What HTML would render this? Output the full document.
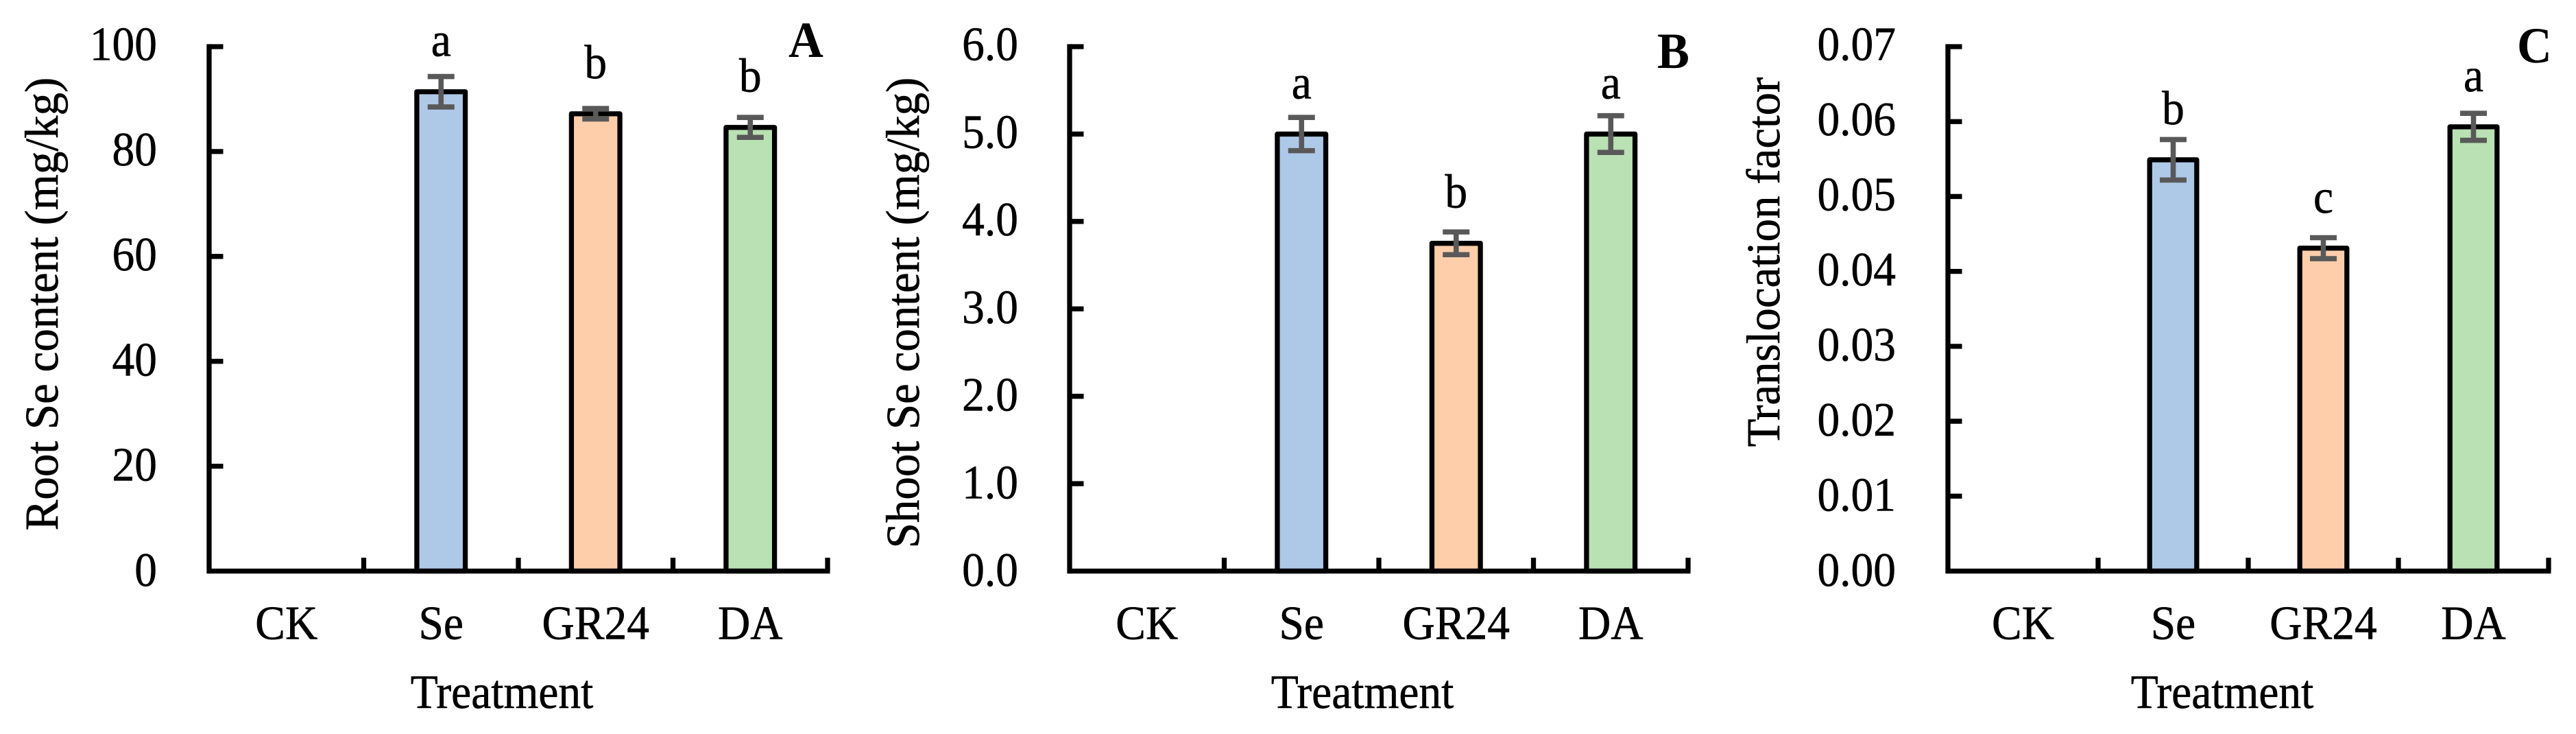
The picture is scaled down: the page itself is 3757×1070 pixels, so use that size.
<!DOCTYPE html>
<html lang="en">
<head>
<meta charset="utf-8">
<title>Se content and translocation factor by treatment</title>
<style>
html,body{margin:0;padding:0;background:#fff;width:3757px;height:1070px;overflow:hidden}
svg{display:block}
text{font-family:"Liberation Serif","Times New Roman",serif;fill:#000;stroke:#000;stroke-width:.6px;font-size:70px;text-rendering:geometricPrecision}
.panel-letter{font-weight:bold;font-size:74px;stroke-width:0}
</style>
</head>
<body>
<svg id="figure" xmlns="http://www.w3.org/2000/svg" width="3757" height="1070" viewBox="0 0 3757 1070">
  <rect x="0" y="0" width="3757" height="1070" fill="#fff"/>

  <g id="panel-a"></g>
  <g id="panel-b"></g>
  <g id="panel-c"></g>

  <text transform="translate(84,443) rotate(-90) scale(1,1.03)" text-anchor="middle" style="font-size:67px">Root Se content (mg/kg)</text>
  <text transform="translate(1340,456) rotate(-90) scale(1,1.03)" text-anchor="middle" style="font-size:67px">Shoot Se content (mg/kg)</text>
  <text transform="translate(2595,382) rotate(-90) scale(1,1.03)" text-anchor="middle" style="font-size:67px">Translocation factor</text>

  <text transform="translate(732,1032) scale(.935,1)" text-anchor="middle">Treatment</text>
  <text transform="translate(1987,1032) scale(.935,1)" text-anchor="middle">Treatment</text>
  <text transform="translate(3241,1032) scale(.935,1)" text-anchor="middle">Treatment</text>

  <text class="panel-letter" transform="translate(1150,83) scale(.95,1)">A</text>
  <text class="panel-letter" transform="translate(2417,99) scale(.95,1)">B</text>
  <text class="panel-letter" transform="translate(3671,91) scale(.95,1)">C</text>
</svg>

<script>
const categories = ['CK', 'Se', 'GR24', 'DA'];
const barColors = ['#ffffff', '#aec8e8', '#fecdaa', '#b9e1b3'];

const rootTicks = ['0', '20', '40', '60', '80', '100'];
const rootValues = [0, 91.4, 87.2, 84.6];
const rootErrors = [0, 2.9, 1.0, 1.9];
const rootLetters = ['', 'a', 'b', 'b'];

const shootTicks = ['0.0', '1.0', '2.0', '3.0', '4.0', '5.0', '6.0'];
const shootValues = [0, 5.0, 3.75, 5.0];
const shootErrors = [0, 0.19, 0.13, 0.21];
const shootLetters = ['', 'a', 'b', 'a'];

const factorTicks = ['0.00', '0.01', '0.02', '0.03', '0.04', '0.05', '0.06', '0.07'];
const factorValues = [0, 0.0549, 0.0431, 0.0593];
const factorErrors = [0, 0.0027, 0.0014, 0.0018];
const factorLetters = ['', 'b', 'c', 'a'];

const SVG_NS = 'http://www.w3.org/2000/svg';

function make(parent, tag, attrs, content) {
  const node = document.createElementNS(SVG_NS, tag);
  for (const key in attrs) node.setAttribute(key, attrs[key]);
  if (content !== undefined) node.textContent = content;
  parent.appendChild(node);
  return node;
}

function drawPanel(rootId, frame, tickLabels, values, errors, letters) {
  const root = document.getElementById(rootId);
  const maxTick = Number(tickLabels[tickLabels.length - 1]);
  const bandWidth = (frame.right - frame.left) / categories.length;
  const barWidth = bandWidth * 0.3135;

  const xScale = i => frame.left + (i + 0.5) * bandWidth;
  const yScale = v => frame.bottom - (v / maxTick) * (frame.bottom - frame.top);
  const labelBaseline = v => 854 - (v / maxTick) * (854 - 87.5);

  values.forEach(function (value, i) {
    if (value <= 0) return;
    const bar = make(root, 'rect', {
      x: xScale(i) - barWidth / 2,
      y: yScale(value),
      width: barWidth,
      height: frame.bottom - yScale(value),
      fill: barColors[i],
      stroke: '#000',
      'stroke-width': 7.3,
      'stroke-linejoin': 'round'
    });
    
    
  });

  const yAxis = make(root, 'line', {
    x1: frame.left, x2: frame.left, y1: frame.top - 3.6, y2: frame.bottom + 3.6,
    stroke: '#000', 'stroke-width': 7.3
  });
  
  

  const xAxis = make(root, 'line', {
    x1: frame.left, x2: frame.right + 3.5, y1: frame.bottom, y2: frame.bottom,
    stroke: '#000', 'stroke-width': 7.2
  });
  
  

  tickLabels.forEach(function (label) {
    const value = Number(label);
    if (value > 0) {
      const mark = make(root, 'line', {
        x1: frame.left, x2: frame.left + 20.5, y1: yScale(value), y2: yScale(value),
        stroke: '#000', 'stroke-width': 7.3
      });
      
      
    }
    const text = make(root, 'text', {
      transform: 'translate(' + frame.labelRight + ',' + labelBaseline(value) + ') scale(.935,1)',
      'text-anchor': 'end'
    }, label);
    
    
  });

  categories.forEach(function (category, i) {
    const edge = frame.left + (i + 1) * bandWidth;
    const mark = make(root, 'line', {
      x1: edge, x2: edge, y1: frame.bottom - 19.5, y2: frame.bottom,
      stroke: '#000', 'stroke-width': 7.3
    });
    
    

    const text = make(root, 'text', {
      transform: 'translate(' + xScale(i) + ',931.5) scale(.935,1)',
      'text-anchor': 'middle'
    }, category);
    
    
  });

  errors.forEach(function (error, i) {
    if (error <= 0) return;
    const cx = xScale(i);
    const hi = yScale(values[i] + error);
    const lo = yScale(values[i] - error);
    const group = make(root, 'g', { stroke: '#595959', 'stroke-width': 7.6, fill: 'none' });
    
    
    make(group, 'line', { x1: cx, x2: cx, y1: hi, y2: lo });
    make(group, 'line', { x1: cx - 19.5, x2: cx + 19.5, y1: hi, y2: hi });
    make(group, 'line', { x1: cx - 19.5, x2: cx + 19.5, y1: lo, y2: lo });
  });

  letters.forEach(function (letter, i) {
    if (!letter) return;
    const text = make(root, 'text', {
      transform: 'translate(' + xScale(i) + ',' + (yScale(values[i]) - 52) + ') scale(.935,1)',
      'text-anchor': 'middle'
    }, letter);
    
    
  });
}

drawPanel('panel-a', { left: 305, right: 1207, top: 68, bottom: 832.5, labelRight: 229 }, rootTicks, rootValues, rootErrors, rootLetters);
drawPanel('panel-b', { left: 1560, right: 2462, top: 68, bottom: 832.5, labelRight: 1485 }, shootTicks, shootValues, shootErrors, shootLetters);
drawPanel('panel-c', { left: 2841, right: 3717, top: 68, bottom: 832.5, labelRight: 2765 }, factorTicks, factorValues, factorErrors, factorLetters);
</script>
</body>
</html>
